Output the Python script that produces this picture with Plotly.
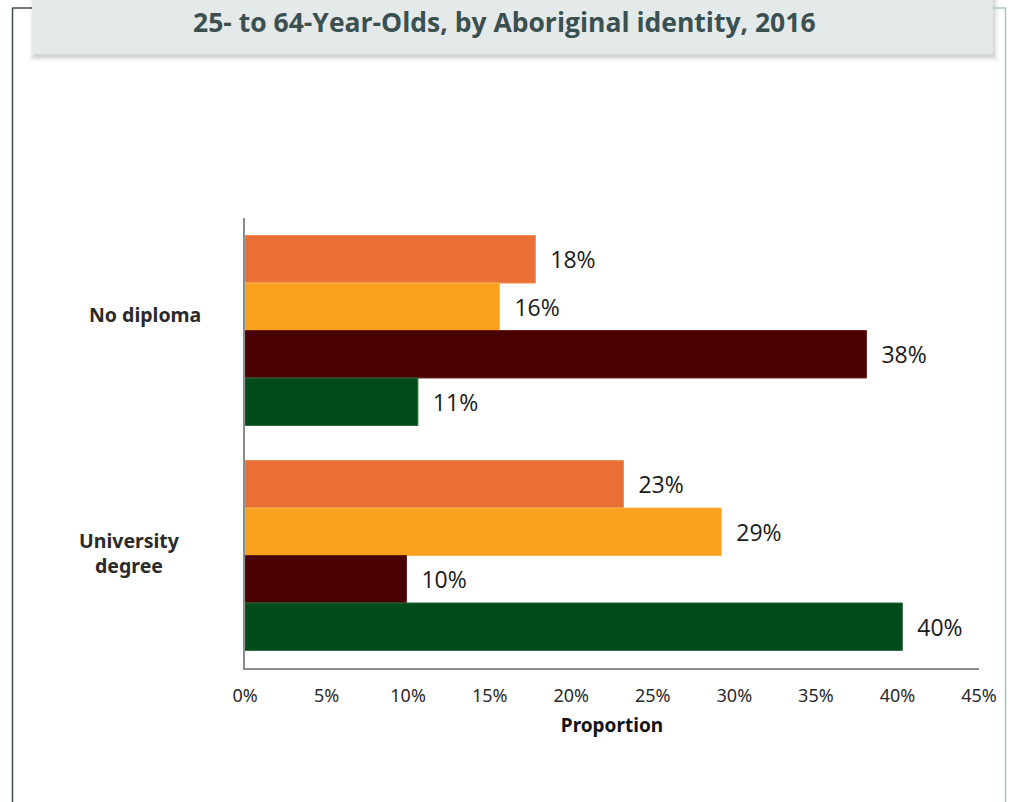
import plotly.graph_objects as go

# Education outcomes of 25- to 64-year-olds, 2016 (percent)
categories = ["No diploma", "University degree"]
category_labels = ["No diploma", "University<br>degree"]
series_names = ["First Nations", "Métis", "Inuit", "Non-Aboriginal"]
first_nations = [17.8, 23.2]
metis = [15.6, 29.2]
inuit = [38.1, 9.9]
non_aboriginal = [10.6, 40.3]
x_ticks = [0, 5, 10, 15, 20, 25, 30, 35, 40, 45]
x_tick_labels = [f"{v}%" for v in x_ticks]

series_values = [first_nations, metis, inuit, non_aboriginal]
colors = ["#E96F34", "#F9A11F", "#4A0000", "#004B1C"]
edge_colors = ["#F08A55", "#FBB850", "#6A2020", "#2A6A40"]

W, H = 1010, 802
ML, MR, MT, MB = 245, 31, 218, 134
PW, PH = W - ML - MR, H - MT - MB


def px_x(p):
    return (p - ML) / PW


def px_y(p):
    return (H - MB - p) / PH


fig = go.Figure()
for name, vals, col, edge in zip(series_names, series_values, colors, edge_colors):
    fig.add_trace(go.Bar(
        name=name,
        y=categories,
        x=vals,
        orientation="h",
        marker=dict(color=col, line=dict(color=edge, width=1)),
        texttemplate="  %{x:.0f}%",
        textposition="outside",
        textfont=dict(family="Open Sans", size=23, color="#1a1a1a"),
        cliponaxis=False,
        hoverinfo="skip",
    ))

shapes = []
# title panel shadow and panel
for i, op in enumerate([0.04, 0.035, 0.03, 0.025, 0.02, 0.015]):
    d = i + 1
    shapes.append(dict(
        type="rect", xref="paper", yref="paper", layer="below",
        x0=px_x(32 - d + 3), x1=px_x(993 + d), y0=px_y(-10), y1=px_y(54 + d + 2),
        fillcolor=f"rgba(0,0,0,{op})", line=dict(width=0),
    ))
shapes.append(dict(
    type="rect", xref="paper", yref="paper", layer="below",
    x0=px_x(32), x1=px_x(993), y0=px_y(-10), y1=px_y(54),
    fillcolor="#E4E9E9", line=dict(width=0),
))
# outer frame
shapes += [
    dict(type="line", xref="paper", yref="paper", x0=px_x(12.5), x1=px_x(12.5),
         y0=px_y(8), y1=px_y(810), line=dict(color="#3E4E4E", width=1.5)),
    dict(type="line", xref="paper", yref="paper", x0=px_x(12), x1=px_x(32),
         y0=px_y(8), y1=px_y(8), line=dict(color="#3E4E4E", width=1.5)),
    dict(type="line", xref="paper", yref="paper", x0=px_x(1005.5), x1=px_x(1005.5),
         y0=px_y(8), y1=px_y(810), line=dict(color="#A9C3C3", width=1.5)),
    dict(type="line", xref="paper", yref="paper", x0=px_x(993), x1=px_x(1006),
         y0=px_y(8), y1=px_y(8), line=dict(color="#A9C3C3", width=1.5)),
]

annotations = [dict(
    text="<b>25- to 64-Year-Olds, by Aboriginal identity, 2016</b>",
    xref="paper", yref="paper", x=px_x(504), y=px_y(22),
    xanchor="center", yanchor="middle", showarrow=False,
    font=dict(family="Open Sans", size=26.5, color="#3B5050"),
)]
label_centers = [145, 129]
label_shifts = [16, 3]
for cat, lab, cx, sh in zip(categories, category_labels, label_centers, label_shifts):
    annotations.append(dict(
        text=f"<b>{lab}</b>", xref="paper", yref="y", x=px_x(cx), y=cat,
        yshift=sh, xanchor="center", yanchor="middle", showarrow=False,
        align="center",
        font=dict(family="Noto Sans", size=19.5, color="#2a2a2a"),
    ))

fig.update_layout(
    width=W, height=H,
    margin=dict(l=ML, r=MR, t=MT, b=MB, pad=0),
    paper_bgcolor="white", plot_bgcolor="white",
    barmode="group", bargap=0.156, bargroupgap=0,
    showlegend=False,
    shapes=shapes, annotations=annotations,
    xaxis=dict(
        range=[0, 45], tickvals=x_ticks, ticktext=x_tick_labels,
        showgrid=False, zeroline=False, showline=True,
        linecolor="#8C8C8C", linewidth=1.5, ticks="",
        ticklabelstandoff=11,
        tickfont=dict(family="Noto Sans", size=18, color="#2a2a2a"),
        title=dict(text="<b>Proportion</b>", standoff=12,
                   font=dict(family="Noto Sans", size=19, color="#111111")),
    ),
    yaxis=dict(
        categoryorder="array", categoryarray=categories,
        autorange="reversed", showticklabels=False,
        showgrid=False, zeroline=False, showline=True,
        linecolor="#8C8C8C", linewidth=1.5, ticks="",
    ),
)

fig.write_html("out.html")
